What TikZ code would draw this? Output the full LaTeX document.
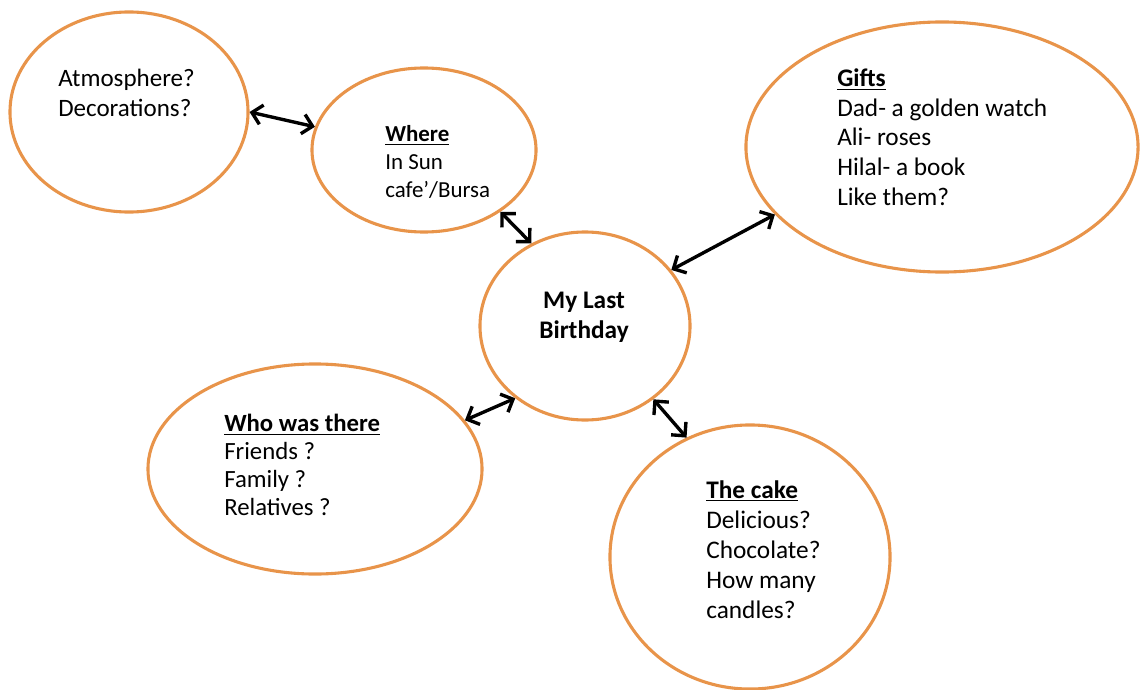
\documentclass[tikz,border=0pt]{standalone}
\usepackage{fontspec}
\setmainfont{Carlito}
\usetikzlibrary{shapes.geometric,arrows.meta}
\definecolor{bubbleorange}{RGB}{232,148,74}

\begin{document}
\begin{tikzpicture}
        [%%%%%%%%%%%%%%%%%%%%%%%%%%%%%%
        x=0.025cm,y=-0.025cm,
        bubble/.style={ellipse,draw=bubbleorange,line width=2.2pt,inner sep=0pt},
        link/.style={{Straight Barb[length=7pt,width=14pt]}-{Straight Barb[length=7pt,width=14pt]},line width=2.4pt},
        txt/.style={anchor=base west,align=left,inner sep=0pt},
        ]%%%%%%%%%%%%%%%%%%%%%%%%%%%%%%
        \useasboundingbox (0,0) rectangle (1141,689);

        \node[bubble,minimum width=5.95cm,minimum height=5cm] (atmos) at (129,112){};
        \node[bubble,minimum width=5.6cm,minimum height=4.1cm] (where) at (424,150){};
        \node[bubble,minimum width=9.8cm,minimum height=6.25cm] (gifts) at (942,147){};
        \node[bubble,minimum width=5.25cm,minimum height=4.7cm] (birthday) at (585,326){};
        \node[bubble,minimum width=8.35cm,minimum height=5.25cm] (who) at (315,469){};
        \node[bubble,minimum width=7cm,minimum height=6.6cm] (cake) at (750,557){};

        % base anchor sits on the last line
        \node[txt,font=\fontsize{17.8}{22}\selectfont] (atmostxt) at (58,117)
          {Atmosphere?\\Decorations?};
        \node[txt,font=\fontsize{16.3}{19.6}\selectfont] (wheretxt) at (385,197)
          {\textbf{\underline{Where}}\\In Sun\\cafe’/Bursa};
        \node[txt,font=\fontsize{18}{21}\selectfont] (giftstxt) at (837,205)
          {\textbf{\underline{Gifts}}\\Dad- a golden watch\\Ali- roses\\Hilal- a book\\Like them?};
        \node[anchor=base,align=center,inner sep=0pt,font=\fontsize{18}{21.3}\selectfont\bfseries] (birthdaytxt) at (584,338)
          {My Last\\Birthday};
        \node[txt,font=\fontsize{17.6}{19.7}\selectfont] (whotxt) at (224,515)
          {\textbf{\underline{Who was there}}\\Friends ?\\Family ?\\Relatives ?};
        \node[txt,font=\fontsize{18}{21.3}\selectfont] (caketxt) at (706,618)
          {\textbf{\underline{The cake}}\\Delicious?\\Chocolate?\\How many\\candles?};

        \draw[link] (atmos.0) -- (where.168);
        \draw[link] (where.-39) -- (birthday.123);
        \draw[link] (gifts.202) -- (birthday.33);
        \draw[link] (birthday.-134) -- (who.18);
        \draw[link] (birthday.-47) -- (cake.118);
      \end{tikzpicture}
\end{document}
